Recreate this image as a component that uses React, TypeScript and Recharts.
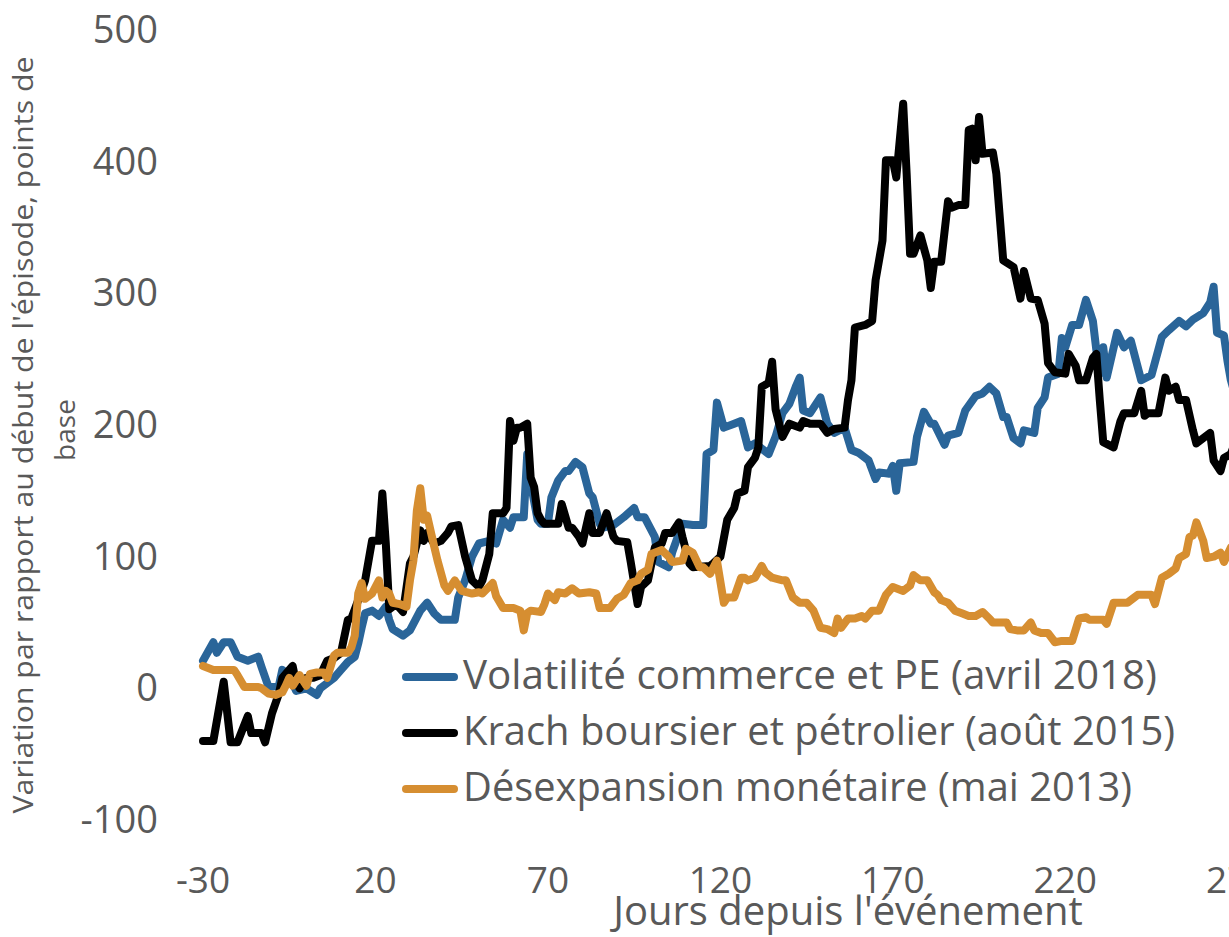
import React from 'react';
import { LineChart, Line, XAxis, YAxis, Legend, Label } from 'recharts';

// Jours depuis l'événement / variation en points de base
const volDays = [-30, -27, -26, -24, -22, -20, -17, -14, -13, -11, -8, -7, -5, -3, 0, 3, 4, 6, 8, 10, 12, 14, 15, 16, 17, 19, 21, 23, 24, 25, 28, 30, 33, 35, 37, 39, 43, 44, 46, 48, 50, 53, 55, 57, 59, 60, 63, 64, 65, 67, 68, 70, 71, 73, 75, 76, 78, 80, 82, 83, 85, 86, 89, 92, 95, 96, 98, 101, 102, 105, 106, 109, 112, 115, 116, 118, 119, 121, 124, 126, 128, 130, 134, 136, 138, 140, 142, 143, 144, 146, 149, 151, 153, 156, 158, 160, 163, 165, 166, 169, 170, 171, 172, 176, 177, 179, 181, 182, 185, 186, 189, 191, 194, 196, 198, 200, 202, 203, 205, 207, 208, 211, 212, 214, 215, 218, 219, 220, 222, 224, 226, 228, 229, 230, 231, 232, 235, 237, 239, 242, 245, 248, 250, 253, 255, 257, 260, 262, 263, 264, 266, 267, 268, 269];
const volValues = [21, 35, 27, 35, 35, 24, 21, 24, 16, 1, 2, 14, 10, -2, 0, -5, 0, 4, 8, 14, 20, 24, 34, 46, 57, 59, 55, 62, 52, 45, 40, 44, 59, 65, 57, 52, 52, 69, 82, 100, 110, 112, 110, 128, 122, 130, 130, 178, 156, 128, 125, 125, 145, 158, 165, 165, 172, 168, 148, 145, 125, 122, 124, 130, 137, 130, 130, 115, 96, 92, 103, 125, 124, 124, 178, 181, 217, 198, 201, 203, 183, 186, 178, 191, 209, 216, 230, 236, 211, 209, 221, 201, 194, 198, 181, 179, 173, 159, 164, 163, 169, 150, 171, 172, 191, 210, 201, 201, 185, 192, 194, 211, 222, 224, 229, 224, 206, 206, 190, 186, 196, 194, 213, 221, 236, 239, 266, 259, 276, 276, 295, 279, 257, 239, 259, 236, 270, 259, 264, 234, 238, 267, 272, 279, 275, 280, 285, 293, 305, 270, 268, 249, 234, 225];

const krachDays = [-30, -27, -24, -22, -20, -17, -16, -13, -12, -10, -8, -7, -4, -3, -2, 0, 2, 4, 6, 8, 10, 12, 13, 15, 17, 18, 19, 21, 22, 23, 24, 26, 28, 30, 31, 33, 34, 35, 37, 39, 41, 42, 44, 45, 46, 48, 50, 51, 53, 54, 57, 58, 59, 60, 61, 62, 64, 65, 66, 67, 68, 69, 73, 74, 76, 77, 79, 80, 82, 83, 85, 87, 89, 90, 93, 94, 96, 97, 99, 101, 103, 104, 106, 108, 109, 111, 112, 117, 118, 120, 122, 124, 125, 127, 128, 130, 131, 132, 134, 135, 136, 138, 140, 143, 144, 146, 149, 151, 153, 156, 157, 158, 159, 162, 164, 165, 167, 168, 170, 171, 173, 174, 175, 176, 178, 180, 181, 182, 184, 186, 187, 189, 191, 192, 193, 194, 195, 196, 199, 200, 202, 205, 207, 208, 210, 212, 214, 215, 217, 220, 221, 223, 224, 226, 228, 229, 230, 231, 234, 236, 237, 240, 242, 243, 244, 247, 249, 250, 252, 253, 255, 257, 258, 260, 262, 263, 265, 266, 268, 269];
const krachValues = [-40, -40, 5, -41, -41, -21, -34, -34, -41, -19, -4, 8, 17, 4, 0, 8, 8, 10, 21, 23, 27, 52, 53, 67, 82, 97, 112, 112, 148, 110, 60, 64, 58, 95, 100, 120, 112, 118, 110, 112, 118, 123, 124, 112, 100, 82, 77, 82, 102, 133, 133, 137, 203, 188, 198, 198, 201, 160, 153, 133, 128, 125, 125, 140, 122, 122, 115, 110, 133, 118, 118, 133, 115, 112, 111, 96, 64, 77, 82, 107, 110, 118, 118, 126, 115, 95, 92, 93, 95, 100, 128, 137, 148, 150, 168, 175, 183, 229, 232, 248, 212, 191, 201, 198, 203, 201, 201, 194, 197, 198, 219, 234, 274, 276, 279, 310, 340, 401, 401, 388, 444, 391, 330, 330, 344, 325, 304, 324, 324, 370, 365, 367, 367, 424, 425, 401, 434, 406, 407, 391, 325, 320, 296, 317, 296, 295, 277, 247, 240, 239, 254, 245, 234, 234, 251, 254, 219, 187, 183, 203, 209, 209, 226, 207, 209, 209, 236, 226, 229, 219, 219, 196, 186, 190, 194, 173, 165, 175, 178, 185];

const desexpDays = [-30, -27, -26, -21, -20, -18, -14, -13, -11, -9, -7, -6, -5, -4, -2, 0, 1, 3, 5, 6, 8, 9, 12, 13, 14, 15, 16, 17, 19, 21, 22, 23, 24, 25, 27, 29, 30, 31, 32, 33, 34, 35, 37, 38, 40, 41, 43, 45, 48, 50, 51, 54, 55, 57, 60, 62, 63, 64, 65, 68, 69, 70, 72, 73, 75, 77, 79, 82, 84, 85, 88, 90, 92, 94, 96, 97, 99, 100, 103, 105, 106, 109, 110, 112, 114, 115, 117, 119, 121, 122, 124, 126, 127, 128, 130, 132, 133, 135, 138, 139, 141, 143, 145, 147, 149, 151, 153, 154, 155, 157, 159, 161, 162, 164, 166, 168, 170, 173, 175, 176, 178, 180, 182, 183, 184, 186, 188, 190, 192, 194, 196, 198, 199, 203, 204, 206, 208, 210, 211, 213, 215, 217, 219, 222, 224, 226, 227, 231, 232, 234, 236, 238, 240, 241, 245, 246, 248, 250, 252, 253, 255, 256, 257, 258, 260, 261, 263, 265, 266, 268, 269];
const desexpValues = [17, 14, 14, 14, 10, 1, 1, 0, -4, -5, -3, 2, 8, 2, 10, 2, 11, 12, 12, 8, 25, 27, 27, 31, 40, 72, 80, 68, 72, 82, 69, 74, 72, 65, 64, 62, 82, 97, 135, 152, 128, 131, 108, 97, 78, 74, 82, 74, 72, 73, 72, 80, 70, 61, 61, 59, 44, 57, 59, 58, 64, 72, 67, 73, 72, 76, 72, 73, 72, 61, 61, 68, 71, 80, 82, 87, 90, 102, 105, 100, 96, 97, 106, 103, 92, 92, 87, 97, 65, 69, 69, 84, 84, 82, 84, 93, 88, 84, 82, 82, 69, 65, 65, 59, 46, 45, 42, 53, 46, 53, 53, 55, 53, 59, 59, 71, 77, 74, 78, 86, 82, 82, 73, 71, 67, 65, 59, 57, 55, 55, 58, 53, 50, 50, 45, 44, 44, 50, 44, 42, 42, 35, 36, 36, 53, 54, 52, 52, 49, 65, 65, 65, 69, 71, 71, 64, 84, 87, 91, 99, 102, 115, 116, 126, 112, 99, 100, 103, 96, 107, 100];

const xTicks = [-30, 20, 70, 120, 170, 220, 270, 320];
const yTicks = [-100, 0, 100, 200, 300, 400, 500];

const FONT = "'Segoe UI', 'Open Sans', sans-serif";
const TEXT = '#595959';

const toPoints = (days: number[], values: number[]) =>
  days.map((d, i) => ({ day: d, value: values[i] }));

const series = [
  { name: 'Volatilité commerce et PE (avril 2018)', color: '#2A6599', data: toPoints(volDays, volValues), textLen: 694 },
  { name: 'Krach boursier et pétrolier (août 2015)', color: '#000000', data: toPoints(krachDays, krachValues), textLen: 712 },
  { name: 'Désexpansion monétaire (mai 2013)', color: '#D68E31', data: toPoints(desexpDays, desexpValues), textLen: 669 },
];

const XTick = (props: any) => {
  const { x, y, payload } = props;
  return (
    <text x={x} y={y + 73} textAnchor="middle" fontSize={37} fill={TEXT} fontFamily={FONT}>
      {payload.value}
    </text>
  );
};

const YTick = (props: any) => {
  const { x, y, payload } = props;
  return (
    <text x={x - 45} y={y + 13} textAnchor="end" fontSize={38} fill={TEXT} fontFamily={FONT}>
      {payload.value}
    </text>
  );
};

const renderLegend = () => (
  <svg width={800} height={170}>
    {series.map((s, i) => (
      <g key={s.name}>
        <line x1={6} x2={54} y1={32 + 56 * i} y2={32 + 56 * i} stroke={s.color} strokeWidth={8} strokeLinecap="round" />
        <text
          x={63}
          y={44 + 56 * i}
          fontSize={40}
          fill={TEXT}
          fontFamily={FONT}
          textLength={s.textLen}
          lengthAdjust="spacingAndGlyphs"
        >
          {s.name}
        </text>
      </g>
    ))}
  </svg>
);

const XTitle = (props: any) => {
  const { viewBox } = props;
  return (
    <text x={viewBox.x + viewBox.width / 2} y={925} textAnchor="middle" fontSize={40} fill={TEXT} fontFamily={FONT}>
      Jours depuis l'événement
    </text>
  );
};

const YTitle = (props: any) => {
  const { viewBox } = props;
  const cy = viewBox.y + viewBox.height / 2 + 10;
  return (
    <g>
      <text
        transform={`translate(33, ${cy}) rotate(-90)`}
        textAnchor="middle"
        fontSize={28}
        fill={TEXT}
        fontFamily={FONT}
        textLength={757}
        lengthAdjust="spacingAndGlyphs"
      >
        Variation par rapport au début de l'épisode, points de
      </text>
      <text transform={`translate(75, ${cy - 5}) rotate(-90)`} textAnchor="middle" fontSize={28} fill={TEXT} fontFamily={FONT}>
        base
      </text>
    </g>
  );
};

const App = () => {
  return (
    <div style={{ position: 'absolute', left: 0, top: 0, width: 1229, height: 937, overflow: 'hidden', background: '#ffffff' }}>
      <LineChart width={1513} height={937} margin={{ top: 30, right: 20, bottom: 0, left: 0 }}>
        <XAxis
          type="number"
          dataKey="day"
          domain={[-30, 344]}
          ticks={xTicks}
          interval={0}
          axisLine={false}
          tickLine={false}
          tickSize={0}
          tickMargin={0}
          height={117}
          tick={<XTick />}
        >
          <Label content={<XTitle />} />
        </XAxis>
        <YAxis
          type="number"
          domain={[-100, 500]}
          ticks={yTicks}
          interval={0}
          axisLine={false}
          tickLine={false}
          tickSize={0}
          tickMargin={0}
          width={203}
          tick={<YTick />}
        >
          <Label content={<YTitle />} />
        </YAxis>
        <Legend
          layout="horizontal"
          verticalAlign="middle"
          align="center"
          content={renderLegend}
          wrapperStyle={{ left: 400, top: 645, width: 800, height: 170 }}
        />
        {series.map((s) => (
          <Line
            key={s.name}
            data={s.data}
            dataKey="value"
            name={s.name}
            type="linear"
            stroke={s.color}
            strokeWidth={8}
            strokeLinejoin="round"
            strokeLinecap="round"
            dot={false}
            activeDot={false}
            isAnimationActive={false}
          />
        ))}
      </LineChart>
    </div>
  );
};

export default App;
